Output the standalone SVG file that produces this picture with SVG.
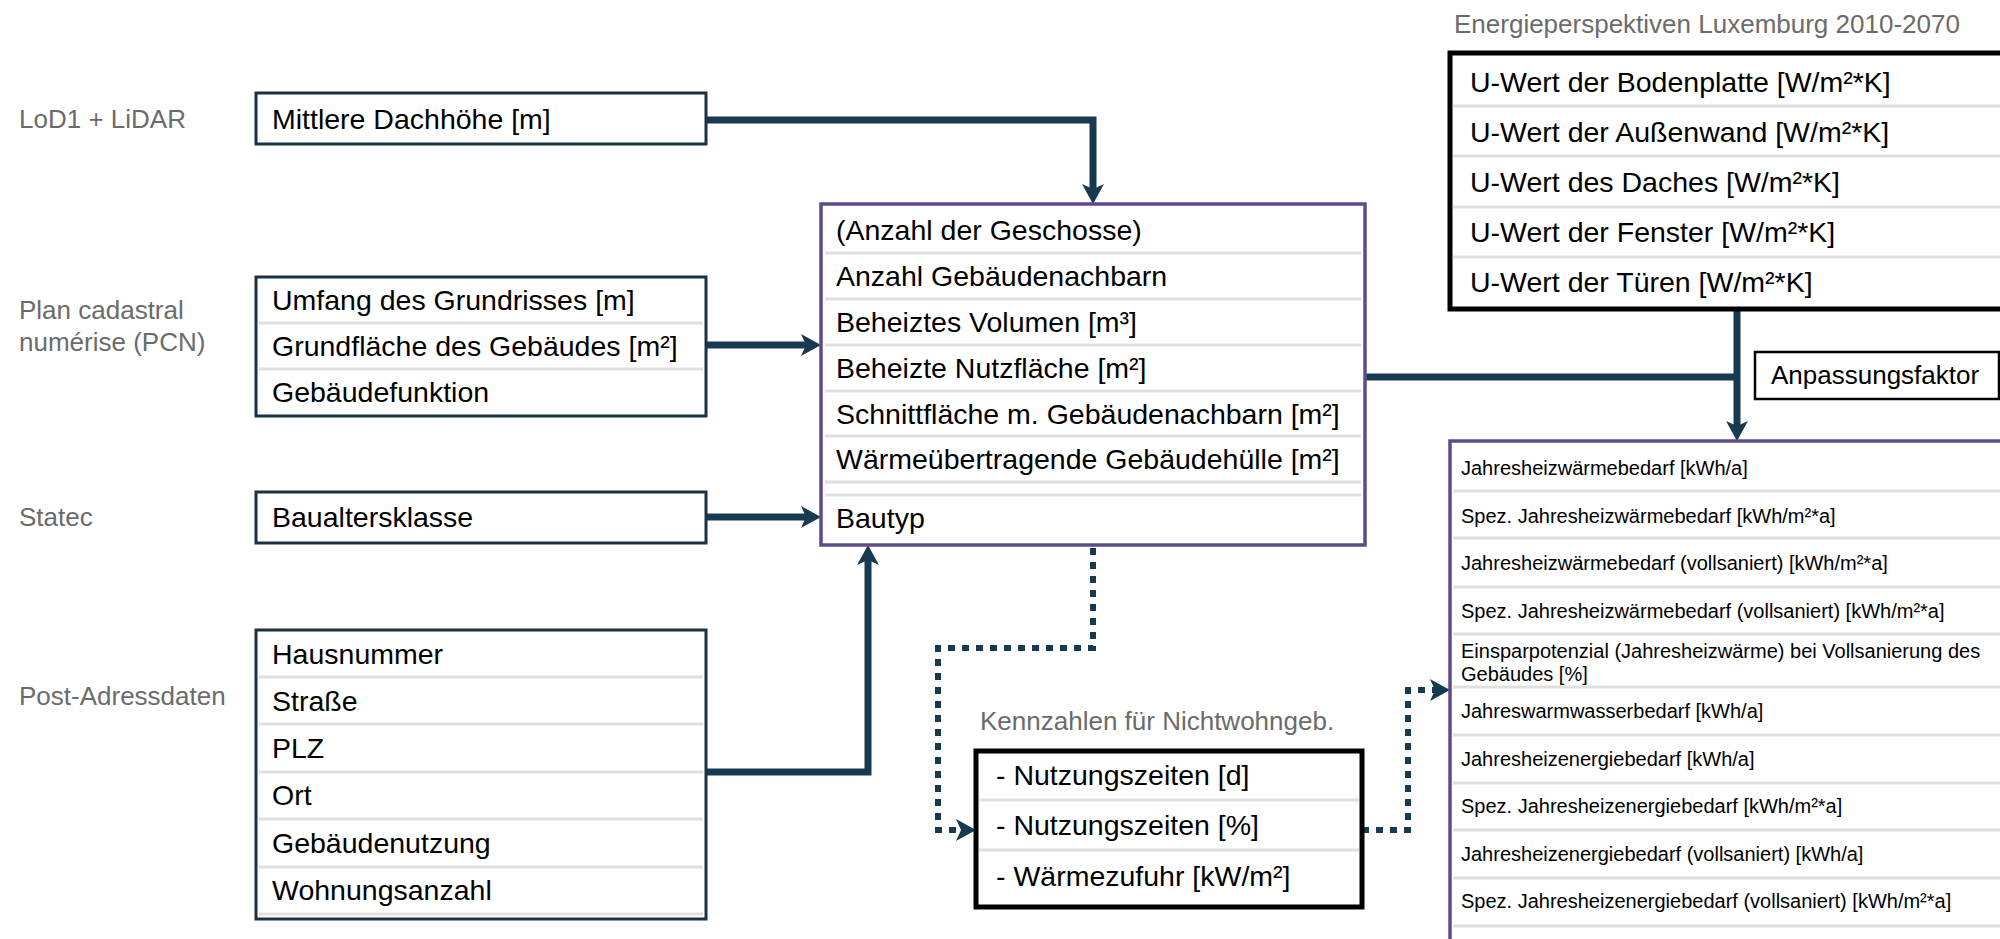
<svg xmlns="http://www.w3.org/2000/svg" width="2000" height="939" viewBox="0 0 2000 939">
<defs>
<style>
text{font-family:"Liberation Sans",Arial,sans-serif;}
.src{font-size:26px;fill:#6b6b6b;}
.t{font-size:28.5px;fill:#000;}
.s{font-size:20px;fill:#000;}
.nb{fill:#fff;stroke:#1c3142;stroke-width:3;}
.pb{fill:#fff;stroke:#5f4b8b;stroke-width:3.5;}
.kb{fill:#fff;stroke:#000;stroke-width:5;}
.sep{stroke:#e0e0e0;stroke-width:3;}
.con{fill:none;stroke:#173a50;stroke-width:7;}
.dot{fill:none;stroke:#173a50;stroke-width:6;stroke-dasharray:7 7;}
</style>
<marker id="ah" markerUnits="userSpaceOnUse" viewBox="0 0 20 22" markerWidth="20" markerHeight="22" refX="8" refY="11" orient="auto">
<path d="M0,0 L20,11 L0,22 L5,11 Z" fill="#173a50"/>
</marker>
</defs>
<rect width="2000" height="939" fill="#fff"/>

<g id="labels">
<text class="src" x="19" y="128">LoD1 + LiDAR</text>
<text class="src" x="19" y="319">Plan cadastral</text>
<text class="src" x="19" y="351">numérise (PCN)</text>
<text class="src" x="19" y="526">Statec</text>
<text class="src" x="19" y="705">Post-Adressdaten</text>
<text class="src" x="1454" y="33">Energieperspektiven Luxemburg 2010-2070</text>
<text class="src" x="980" y="730">Kennzahlen für Nichtwohngeb.</text>
</g>

<g id="connectors">
<path class="con" d="M706,120 H1093 V192" marker-end="url(#ah)"/>
<path class="con" d="M706,345 H809" marker-end="url(#ah)"/>
<path class="con" d="M706,517 H809" marker-end="url(#ah)"/>
<path class="con" d="M706,772 H868 V557" marker-end="url(#ah)"/>
<path class="con" d="M1365,377 H1737"/>
<path class="con" d="M1737,311 V429" marker-end="url(#ah)"/>
<path class="dot" d="M1093,548 V648 H938 V830 H964" marker-end="url(#ah)"/>
<path class="dot" d="M1362,830 H1408 V690 H1438" marker-end="url(#ah)"/>
</g>

<g id="lod1">
<rect class="nb" x="256" y="93" width="450" height="51"/>
<text class="t" x="272" y="129">Mittlere Dachhöhe [m]</text>
</g>

<g id="pcn">
<rect class="nb" x="256" y="277" width="450" height="139"/>
<line class="sep" x1="259" y1="323" x2="703" y2="323"/>
<line class="sep" x1="259" y1="369" x2="703" y2="369"/>
<text class="t" x="272" y="310">Umfang des Grundrisses [m]</text>
<text class="t" x="272" y="356">Grundfläche des Gebäudes [m²]</text>
<text class="t" x="272" y="402">Gebäudefunktion</text>
</g>

<g id="statec">
<rect class="nb" x="256" y="492" width="450" height="51"/>
<text class="t" x="272" y="527">Baualtersklasse</text>
</g>

<g id="post">
<rect class="nb" x="256" y="630" width="450" height="289"/>
<line class="sep" x1="259" y1="677" x2="703" y2="677"/>
<line class="sep" x1="259" y1="724" x2="703" y2="724"/>
<line class="sep" x1="259" y1="772" x2="703" y2="772"/>
<line class="sep" x1="259" y1="819" x2="703" y2="819"/>
<line class="sep" x1="259" y1="867" x2="703" y2="867"/>
<line class="sep" x1="259" y1="914" x2="703" y2="914"/>
<text class="t" x="272" y="664">Hausnummer</text>
<text class="t" x="272" y="711">Straße</text>
<text class="t" x="272" y="758">PLZ</text>
<text class="t" x="272" y="805">Ort</text>
<text class="t" x="272" y="853">Gebäudenutzung</text>
<text class="t" x="272" y="900">Wohnungsanzahl</text>
</g>

<g id="central">
<rect class="pb" x="821" y="204" width="544" height="341"/>
<line class="sep" x1="825" y1="253" x2="1361" y2="253"/>
<line class="sep" x1="825" y1="299" x2="1361" y2="299"/>
<line class="sep" x1="825" y1="345" x2="1361" y2="345"/>
<line class="sep" x1="825" y1="391" x2="1361" y2="391"/>
<line class="sep" x1="825" y1="436" x2="1361" y2="436"/>
<line class="sep" x1="825" y1="482" x2="1361" y2="482"/>
<line class="sep" x1="825" y1="495" x2="1361" y2="495"/>
<text class="t" x="836" y="240">(Anzahl der Geschosse)</text>
<text class="t" x="836" y="286">Anzahl Gebäudenachbarn</text>
<text class="t" x="836" y="332">Beheiztes Volumen [m³]</text>
<text class="t" x="836" y="378">Beheizte Nutzfläche [m²]</text>
<text class="t" x="836" y="424">Schnittfläche m. Gebäudenachbarn [m²]</text>
<text class="t" x="836" y="469">Wärmeübertragende Gebäudehülle [m²]</text>
<text class="t" x="836" y="528">Bautyp</text>
</g>

<g id="uwerte">
<rect class="kb" x="1450" y="53" width="560" height="256"/>
<line class="sep" x1="1453" y1="106" x2="2000" y2="106"/>
<line class="sep" x1="1453" y1="156" x2="2000" y2="156"/>
<line class="sep" x1="1453" y1="207" x2="2000" y2="207"/>
<line class="sep" x1="1453" y1="257" x2="2000" y2="257"/>
<text class="t" x="1470" y="92">U-Wert der Bodenplatte [W/m²*K]</text>
<text class="t" x="1470" y="142">U-Wert der Außenwand [W/m²*K]</text>
<text class="t" x="1470" y="192">U-Wert des Daches [W/m²*K]</text>
<text class="t" x="1470" y="242">U-Wert der Fenster [W/m²*K]</text>
<text class="t" x="1470" y="292">U-Wert der Türen [W/m²*K]</text>
</g>

<g id="anpassung">
<rect x="1755" y="352" width="244" height="47" fill="#fff" stroke="#000" stroke-width="2.5"/>
<text x="1771" y="384" style="font-size:26px">Anpassungsfaktor</text>
</g>

<g id="results">
<rect class="pb" x="1450" y="441" width="560" height="520" stroke-width="4"/>
<line class="sep" x1="1453" y1="491" x2="2000" y2="491"/>
<line class="sep" x1="1453" y1="538" x2="2000" y2="538"/>
<line class="sep" x1="1453" y1="587" x2="2000" y2="587"/>
<line class="sep" x1="1453" y1="634" x2="2000" y2="634"/>
<line class="sep" x1="1453" y1="687" x2="2000" y2="687"/>
<line class="sep" x1="1453" y1="735" x2="2000" y2="735"/>
<line class="sep" x1="1453" y1="783" x2="2000" y2="783"/>
<line class="sep" x1="1453" y1="830" x2="2000" y2="830"/>
<line class="sep" x1="1453" y1="878" x2="2000" y2="878"/>
<line class="sep" x1="1453" y1="926" x2="2000" y2="926"/>
<text class="s" x="1461" y="475">Jahresheizwärmebedarf [kWh/a]</text>
<text class="s" x="1461" y="523">Spez. Jahresheizwärmebedarf [kWh/m²*a]</text>
<text class="s" x="1461" y="570">Jahresheizwärmebedarf (vollsaniert) [kWh/m²*a]</text>
<text class="s" x="1461" y="618">Spez. Jahresheizwärmebedarf (vollsaniert) [kWh/m²*a]</text>
<text class="s" x="1461" y="658">Einsparpotenzial (Jahresheizwärme) bei Vollsanierung des</text>
<text class="s" x="1461" y="681">Gebäudes [%]</text>
<text class="s" x="1461" y="718">Jahreswarmwasserbedarf [kWh/a]</text>
<text class="s" x="1461" y="766">Jahresheizenergiebedarf [kWh/a]</text>
<text class="s" x="1461" y="813">Spez. Jahresheizenergiebedarf [kWh/m²*a]</text>
<text class="s" x="1461" y="861">Jahresheizenergiebedarf (vollsaniert) [kWh/a]</text>
<text class="s" x="1461" y="908">Spez. Jahresheizenergiebedarf (vollsaniert) [kWh/m²*a]</text>
</g>

<g id="kennzahlen">
<rect class="kb" x="976" y="751" width="386" height="156"/>
<line class="sep" x1="979" y1="800" x2="1359" y2="800"/>
<line class="sep" x1="979" y1="850" x2="1359" y2="850"/>
<text class="t" x="996" y="785">- Nutzungszeiten [d]</text>
<text class="t" x="996" y="835">- Nutzungszeiten [%]</text>
<text class="t" x="996" y="886">- Wärmezufuhr [kW/m²]</text>
</g>
</svg>
